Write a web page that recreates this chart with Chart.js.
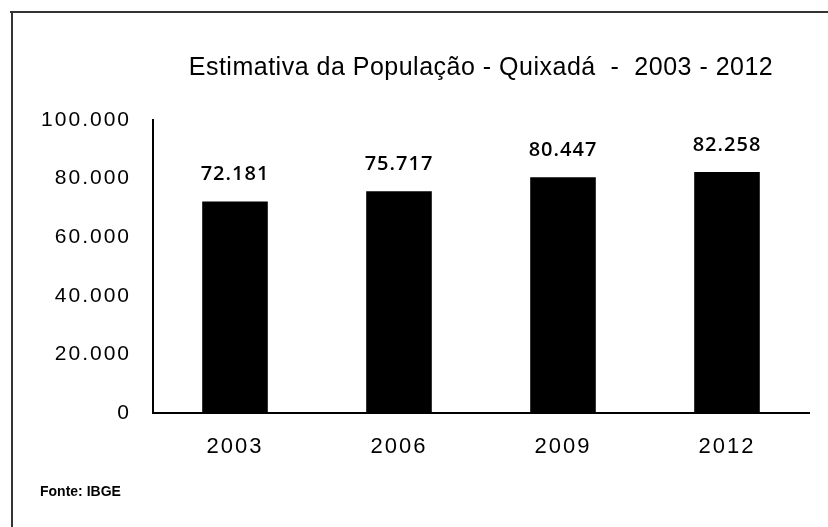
<!DOCTYPE html>
<html>
<head>
<meta charset="utf-8">
<script src="https://cdn.jsdelivr.net/npm/chart.js@4/dist/chart.umd.min.js"></script>
<style>
  html, body { margin: 0; padding: 0; background: #fff; }
  #wrap { width: 828px; height: 527px; position: relative; }
</style>
</head>
<body>
<div id="wrap"><canvas id="chartBar"></canvas></div>
<script>
const anos = ["2003", "2006", "2009", "2012"];
const populacao = [72181, 75717, 80447, 82258];
const yTicks = [0, 20000, 40000, 60000, 80000, 100000];
const titulo = "Estimativa da População - Quixadá  -  2003 - 2012";
const fonte = "Fonte: IBGE";

// formato brasileiro: 80.000
const fmt = (v) => String(v).replace(/\B(?=(\d{3})+(?!\d))/g, ".");

const extras = {
  id: "extras",
  beforeUpdate(chart) {
    chart.ctx.letterSpacing = "2px";
  },
  afterDraw(chart) {
    const ctx = chart.ctx;
    const area = chart.chartArea;
    ctx.save();
    // moldura
    ctx.strokeStyle = "#333";
    ctx.lineWidth = 2;
    ctx.beginPath();
    ctx.moveTo(10, 12);
    ctx.lineTo(828, 12);
    ctx.moveTo(12, 12);
    ctx.lineTo(12, 527);
    ctx.stroke();

    // titulo
    ctx.fillStyle = "#000";
    ctx.textAlign = "center";
    ctx.textBaseline = "middle";
    ctx.letterSpacing = "0.5px";
    ctx.font = "25px 'Liberation Sans', Arial, sans-serif";
    ctx.fillText(titulo, (area.left + area.right) / 2, 68);

    // rotulos dos valores
    ctx.letterSpacing = "1px";
    ctx.font = "600 20px 'Open Sans', sans-serif";
    const meta = chart.getDatasetMeta(0);
    meta.data.forEach((bar, i) => {
      ctx.fillText(fmt(populacao[i]), bar.x, bar.y - 27);
    });

    // fonte
    ctx.letterSpacing = "0px";
    ctx.textAlign = "left";
    ctx.font = "bold 14px 'Liberation Sans', Arial, sans-serif";
    ctx.fillText(fonte, 40, 492);
    ctx.restore();
  }
};

new Chart(document.getElementById("chartBar"), {
  type: "bar",
  data: {
    labels: anos,
    datasets: [{
      data: populacao,
      backgroundColor: "#000",
      borderWidth: 0,
      barPercentage: 0.8,
      categoryPercentage: 0.5
    }]
  },
  options: {
    responsive: true,
    maintainAspectRatio: false,
    animation: false,
    layout: { padding: { top: 120, right: 19, bottom: 67, left: 0 } },
    plugins: {
      legend: { display: false },
      tooltip: { enabled: false }
    },
    scales: {
      x: {
        grid: { display: false, drawTicks: false },
        border: { display: true, color: "#000", width: 2 },
        ticks: {
          color: "#000",
          padding: 21,
          font: { family: "'Liberation Sans', Arial, sans-serif", size: 22 }
        },
        afterFit(scale) { scale.height = 47; }
      },
      y: {
        min: 0,
        max: 100000,
        afterBuildTicks(scale) {
          scale.ticks = yTicks.map((v) => ({ value: v }));
        },
        grid: { display: false, drawTicks: false },
        border: { display: true, color: "#000", width: 2 },
        ticks: {
          color: "#000",
          padding: 22,
          font: { family: "'Liberation Sans', Arial, sans-serif", size: 21 },
          callback: (v) => fmt(v)
        },
        afterFit(scale) { scale.width = 153; }
      }
    }
  },
  plugins: [extras]
});
</script>
</body>
</html>
